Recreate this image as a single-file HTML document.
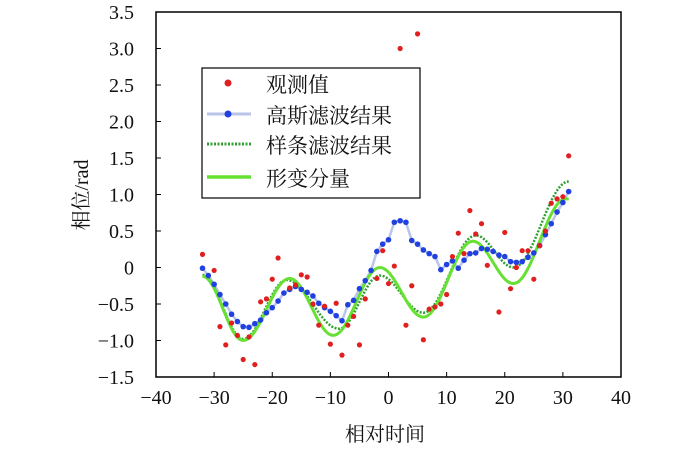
<!DOCTYPE html>
<html><head><meta charset="utf-8"><style>
body{margin:0;background:#fff;}
svg text{font-family:"Liberation Serif","Noto Serif CJK SC",serif;fill:#111;}
</style></head><body>
<svg id="s" width="700" height="456" xmlns="http://www.w3.org/2000/svg">
<rect x="0" y="0" width="700" height="456" fill="#fff"/>
<g id="plot"></g>
<rect x="156" y="12" width="465" height="365" fill="none" stroke="#000" stroke-width="1.5"/>
<g id="ticks"></g>
<text x="385" y="441" font-size="20" text-anchor="middle">相对时间</text>
<text transform="translate(88,195) rotate(-90)" font-size="20" text-anchor="middle">相位/rad</text>
<rect x="202" y="68" width="218" height="130" fill="#fff" stroke="#000" stroke-width="1.2"/>
<circle cx="228" cy="83" r="3.5" fill="#e02020"/>
<text x="266" y="92" font-size="21">观测值</text>
<line x1="207" y1="114" x2="251" y2="114" stroke="#b8c4ea" stroke-width="3"/>
<circle cx="228" cy="114" r="3.5" fill="#2040e0"/>
<text x="266" y="123" font-size="21">高斯滤波结果</text>
<line x1="207" y1="144" x2="251" y2="144" stroke="#30a030" stroke-width="3" stroke-dasharray="2,1.5"/>
<text x="266" y="153" font-size="21">样条滤波结果</text>
<line x1="207" y1="177" x2="251" y2="177" stroke="#66e033" stroke-width="3.5"/>
<text x="266" y="186" font-size="21">形变分量</text>
</svg>
<script>
var X=t=>156+(t+40)*5.8125, Y=v=>12+(3.5-v)*73;
var ns="http://www.w3.org/2000/svg";
function el(p,n,a,txt){var e=document.createElementNS(ns,n);for(var k in a)e.setAttribute(k,a[k]);if(txt!==undefined)e.textContent=txt;document.getElementById(p).appendChild(e);return e;}
function curve(k){var pts=[];for(var i=0;i<k.length-1;i++){var a=k[i],b=k[i+1];for(var j=0;j<20;j++){var f=j/20,s=(1-Math.cos(Math.PI*f))/2;pts.push([a[0]+(b[0]-a[0])*f,a[1]+(b[1]-a[1])*s]);}}pts.push(k[k.length-1]);return pts.map(p=>X(p[0]).toFixed(1)+","+Y(p[1]).toFixed(1)).join(" ");}
var red=[[-32,.18],[-30,-.04],[-29,-.81],[-28,-1.06],[-27,-.76],[-26,-.93],[-25,-1.26],[-24,-.95],[-23,-1.33],[-22,-.47],[-21,-.43],[-20,-.16],[-19,.13],[-17,-.28],[-16,-.24],[-15,-.1],[-14,-.13],[-13,-.5],[-12,-.79],[-11,-.53],[-10,-1.05],[-9,-.49],[-8,-1.2],[-7,-.79],[-6,-.67],[-5,-1.06],[-4,-.43],[-2,-.15],[-1,.23],[0,-.22],[1,.02],[2,3.0],[3,-.79],[4,-.25],[5,3.2],[6,-.99],[7,-.57],[8,-.54],[9,-.5],[10,-.37],[11,.15],[12,.47],[13,.19],[14,.78],[15,.46],[16,.6],[17,.03],[19,-.61],[20,.48],[21,-.29],[22,0],[23,.23],[24,.23],[25,-.16],[26,.3],[27,.5],[28,.88],[29,.94],[30,.97],[31,1.53]];
var bl=[-.01,-.11,-.23,-.37,-.5,-.64,-.74,-.81,-.82,-.77,-.72,-.62,-.55,-.46,-.35,-.3,-.26,-.3,-.34,-.39,-.49,-.55,-.6,-.66,-.73,-.51,-.45,-.29,-.18,-.04,.22,.32,.38,.62,.64,.62,.37,.32,.24,.19,.15,-.03,.04,.09,-.01,.1,.19,.2,.26,.25,.22,.17,.15,.08,.07,.08,.14,.2,.3,.45,.6,.76,.89,1.04];
el("plot","polyline",{points:bl.map((v,i)=>X(i-32)+","+Y(v)).join(" "),fill:"none",stroke:"#b8c4ea","stroke-width":2.5});
el("plot","polyline",{points:curve([[-32,-.1],[-25,-.98],[-17.5,-.17],[-8.5,-.84],[-1.5,-.11],[6,-.62],[15,.44],[21.5,0],[31,1.18]]),fill:"none",stroke:"#30a030","stroke-width":2.5,"stroke-dasharray":"2,1.5"});
el("plot","polyline",{points:curve([[-32,-.12],[-25,-1.0],[-17,-.15],[-9.5,-.93],[-1.5,0],[6,-.68],[14.5,.36],[21.5,-.22],[30.5,.94],[31,.94]]),fill:"none",stroke:"#66e033","stroke-width":3});
bl.forEach((v,i)=>el("plot","circle",{cx:X(i-32),cy:Y(v),r:2.8,fill:"#2040e0"}));
red.forEach(p=>el("plot","circle",{cx:X(p[0]),cy:Y(p[1]),r:2.6,fill:"#e02020"}));
for(var t=-40;t<=40;t+=10){el("ticks","line",{x1:X(t),x2:X(t),y1:377,y2:372,stroke:"#000"});el("ticks","text",{x:X(t),y:404,"font-size":20,"text-anchor":"middle"},(t<0?"\u2212"+(-t):t));}
for(var v=-1.5;v<=3.51;v+=.5){el("ticks","line",{x1:156,x2:161,y1:Y(v),y2:Y(v),stroke:"#000"});var s=Math.abs(v)<1e-9?"0":(v<0?"\u2212"+(-v).toFixed(1):v.toFixed(1));el("ticks","text",{x:134,y:Y(v)+7,"font-size":20,"text-anchor":"end"},s);}
</script>
</body></html>
